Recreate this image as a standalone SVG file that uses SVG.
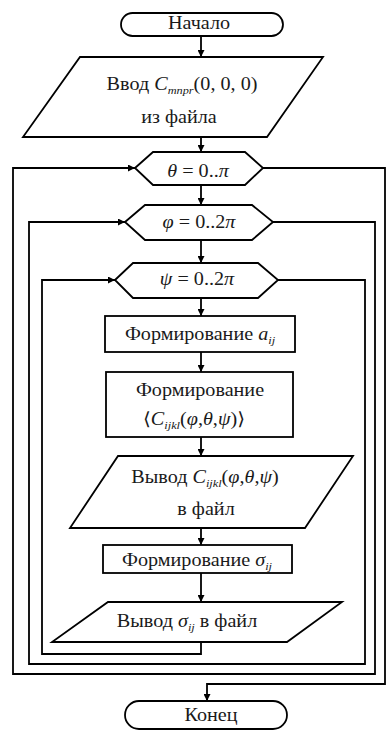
<svg xmlns="http://www.w3.org/2000/svg" width="387" height="731" viewBox="0 0 387 731" font-family="'Liberation Serif', 'DejaVu Serif', serif">
<style>
.s{fill:#fff;stroke:#000;stroke-width:1.8}
.c{fill:none;stroke:#000;stroke-width:1.8}
.a{marker-end:url(#ah)}
.t{font-family:'Liberation Serif','DejaVu Serif',serif;font-size:18px;fill:#1a1a1a;text-anchor:middle}
.i{font-style:italic}
.sub{font-style:italic;font-size:11px}
</style>
<defs>
<marker id="ah" viewBox="0 0 10 10" refX="10" refY="5" markerWidth="7" markerHeight="7" markerUnits="userSpaceOnUse" orient="auto">
<path d="M0,0 L10,5 L0,10 z" fill="#000"/>
</marker>
</defs>
<rect width="387" height="731" fill="#fff"/>
<g id="connectors">
<path class="c a" d="M201,36 V57"/>
<path class="c a" d="M201,137 V152"/>
<path class="c a" d="M201,185 V205"/>
<path class="c a" d="M201,240 V263"/>
<path class="c a" d="M201,298 V316"/>
<path class="c a" d="M201,352 V372"/>
<path class="c a" d="M201,437 V456"/>
<path class="c a" d="M201,528 V545"/>
<path class="c a" d="M201,573 V602"/>
<path class="c a" d="M201,642 V654 H42 V280 H115"/>
<path class="c a" d="M278,280 H365 V664 H29 V222 H125"/>
<path class="c a" d="M273,222 H375 V674 H13 V168 H135"/>
<path class="c a" d="M263,168 H385 V684 H207 V701"/>
</g>
<g id="start">
<rect class="s" x="121" y="13" width="162" height="23" rx="11.5"/>
<text class="t" transform="translate(199,29) scale(1.12,1)">Начало</text>
</g>
<g id="input">
<path class="s" d="M80,57 H323 L267,137 H23 Z"/>
<text class="t" transform="translate(182,90) scale(1.12,1)">Ввод <tspan class="i">C</tspan><tspan class="sub" dy="4">mnpr</tspan><tspan dy="-4">(0, 0, 0)</tspan></text>
<text class="t" transform="translate(179,123) scale(1.12,1)">из файла</text>
</g>
<g id="loop-theta">
<path class="s" d="M135,168 L153,152 H245 L263,168 L245,185 H153 Z"/>
<text class="t" transform="translate(198,177) scale(1.12,1)"><tspan class="i">θ</tspan> = 0..<tspan class="i">π</tspan></text>
</g>
<g id="loop-phi">
<path class="s" d="M125,222 L145,205 H252 L273,222 L252,240 H145 Z"/>
<text class="t" transform="translate(199,228) scale(1.12,1)"><tspan class="i">φ</tspan> = 0..2<tspan class="i">π</tspan></text>
</g>
<g id="loop-psi">
<path class="s" d="M115,280 L133,263 H258 L278,280 L258,298 H133 Z"/>
<text class="t" transform="translate(197,285) scale(1.12,1)"><tspan class="i">ψ</tspan> = 0..2<tspan class="i">π</tspan></text>
</g>
<g id="form-a">
<rect class="s" x="105" y="316" width="190" height="36"/>
<text class="t" transform="translate(200,340) scale(1.12,1)">Формирование <tspan class="i">a</tspan><tspan class="sub" dy="4">ij</tspan></text>
</g>
<g id="form-c">
<rect class="s" x="106" y="372" width="187" height="65"/>
<text class="t" transform="translate(200,396) scale(1.12,1)">Формирование</text>
<text class="t" transform="translate(194,425) scale(1.12,1)">⟨<tspan class="i">C</tspan><tspan class="sub" dy="4">ijkl</tspan><tspan dy="-4">(</tspan><tspan class="i">φ</tspan>,<tspan class="i">θ</tspan>,<tspan class="i">ψ</tspan>)⟩</text>
</g>
<g id="output-c">
<path class="s" d="M118,456 H353 L305,528 H70 Z"/>
<text class="t" transform="translate(205,483) scale(1.12,1)">Вывод <tspan class="i">C</tspan><tspan class="sub" dy="4">ijkl</tspan><tspan dy="-4">(</tspan><tspan class="i">φ</tspan>,<tspan class="i">θ</tspan>,<tspan class="i">ψ</tspan>)</text>
<text class="t" transform="translate(206,515) scale(1.12,1)">в файл</text>
</g>
<g id="form-sigma">
<rect class="s" x="103" y="545" width="189" height="28"/>
<text class="t" transform="translate(197,566) scale(1.12,1)">Формирование <tspan class="i">σ</tspan><tspan class="sub" dy="4">ij</tspan></text>
</g>
<g id="output-sigma">
<path class="s" d="M108,602 H342 L287,642 H52 Z"/>
<text class="t" transform="translate(187,627) scale(1.12,1)">Вывод <tspan class="i">σ</tspan><tspan class="sub" dy="4">ij</tspan><tspan dy="-4"> в файл</tspan></text>
</g>
<g id="end">
<rect class="s" x="125" y="701" width="162" height="28" rx="14"/>
<text class="t" transform="translate(211,721) scale(1.12,1)">Конец</text>
</g>
</svg>
